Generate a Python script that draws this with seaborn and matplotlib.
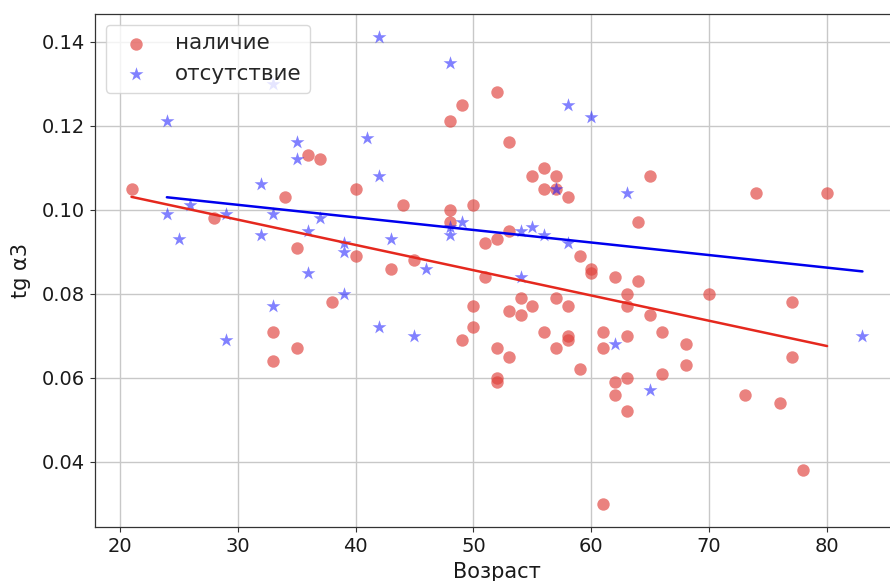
import matplotlib
matplotlib.use("Agg")
import matplotlib.pyplot as plt
import seaborn as sns
import pandas as pd

# --- data -------------------------------------------------------------
age_present = [21, 28, 33, 33, 34, 35, 35, 36, 37, 38,
               40, 40, 43, 44, 45, 48, 48, 48, 49, 49,
               50, 50, 50, 51, 51, 52, 52, 52, 52, 52,
               53, 53, 53, 53, 54, 54, 55, 55, 56, 56,
               56, 57, 57, 57, 57, 58, 58, 58, 58, 59,
               59, 60, 60, 61, 61, 61, 62, 62, 62, 63,
               63, 63, 63, 63, 64, 64, 65, 65, 66, 66,
               68, 68, 70, 73, 74, 76, 77, 77, 78, 80]
tg_present = [0.105, 0.098, 0.071, 0.064, 0.103, 0.091, 0.067, 0.113, 0.112, 0.078,
              0.105, 0.089, 0.086, 0.101, 0.088, 0.121, 0.100, 0.097, 0.125, 0.069,
              0.101, 0.077, 0.072, 0.092, 0.084, 0.128, 0.093, 0.067, 0.060, 0.059,
              0.116, 0.095, 0.076, 0.065, 0.079, 0.075, 0.108, 0.077, 0.110, 0.105,
              0.071, 0.108, 0.105, 0.079, 0.067, 0.103, 0.077, 0.070, 0.069, 0.089,
              0.062, 0.086, 0.085, 0.071, 0.067, 0.030, 0.084, 0.059, 0.056, 0.080,
              0.077, 0.070, 0.060, 0.052, 0.097, 0.083, 0.108, 0.075, 0.071, 0.061,
              0.068, 0.063, 0.080, 0.056, 0.104, 0.054, 0.078, 0.065, 0.038, 0.104]

age_absent = [24, 24, 25, 26, 29, 29, 32, 32, 33, 33,
              33, 35, 35, 36, 36, 37, 39, 39, 39, 41,
              42, 42, 42, 43, 45, 46, 48, 48, 48, 49,
              54, 54, 55, 56, 57, 58, 58, 60, 62, 63,
              65, 83]
tg_absent = [0.121, 0.099, 0.093, 0.101, 0.099, 0.069, 0.106, 0.094, 0.130, 0.099,
             0.077, 0.116, 0.112, 0.095, 0.085, 0.098, 0.092, 0.090, 0.080, 0.117,
             0.141, 0.108, 0.072, 0.093, 0.070, 0.086, 0.135, 0.096, 0.094, 0.097,
             0.095, 0.084, 0.096, 0.094, 0.105, 0.125, 0.092, 0.122, 0.068, 0.104,
             0.057, 0.070]

label_present = "наличие"
label_absent = "отсутствие"
x_label = "Возраст"
y_label = "tg α3"
x_ticks = [20, 30, 40, 50, 60, 70, 80]
y_ticks = [0.04, 0.06, 0.08, 0.10, 0.12, 0.14]

df_p = pd.DataFrame({"age": age_present, "tg": tg_present})
df_a = pd.DataFrame({"age": age_absent, "tg": tg_absent})

# --- style -------------------------------------------------------------
sns.set_style("ticks")
plt.rcParams["font.family"] = ["DejaVu Sans"]

fig = plt.figure(figsize=(8.9, 5.81), dpi=100)
ax = fig.add_axes([0.1067, 0.0924, 0.9034, 0.8835])

sns.scatterplot(data=df_p, x="age", y="tg", ax=ax, color="#e0403a", alpha=0.65,
                marker="o", s=80, linewidth=0, label=label_present, zorder=3)
sns.scatterplot(data=df_a, x="age", y="tg", ax=ax, color="#1a1aff", alpha=0.55,
                marker="*", s=110, linewidth=0, label=label_absent, zorder=4)

sns.regplot(data=df_p, x="age", y="tg", ax=ax, scatter=False, ci=None,
            color="#e5281e", line_kws={"linewidth": 1.8, "zorder": 5})
sns.regplot(data=df_a, x="age", y="tg", ax=ax, scatter=False, ci=None,
            color="#0000ee", line_kws={"linewidth": 1.8, "zorder": 5})

ax.set_xlim(17.9, 86.1)
ax.set_ylim(0.02445, 0.14655)
ax.set_xticks(x_ticks)
ax.set_yticks(y_ticks)
ax.set_yticklabels([f"{v:.2f}" for v in y_ticks])
ax.tick_params(labelsize=14, length=3.5, width=0.8, color="#333333",
               labelcolor="#1a1a1a")
ax.grid(True, color="#c8c8c8", linewidth=1.0)
ax.set_axisbelow(True)
for side in ["left", "bottom", "top"]:
    ax.spines[side].set_visible(True)
    ax.spines[side].set_color("#333333")
    ax.spines[side].set_linewidth(0.9)
ax.spines["right"].set_visible(False)

ax.set_xlabel(x_label, fontsize=15, labelpad=4, color="#1a1a1a")
ax.set_ylabel(y_label, fontsize=15, labelpad=8, color="#1a1a1a")

leg = ax.legend(loc="upper left", fontsize=15.5, frameon=True, framealpha=0.8,
                edgecolor="#d0d0d0", fancybox=True)

fig.savefig("out.png", dpi=100)
